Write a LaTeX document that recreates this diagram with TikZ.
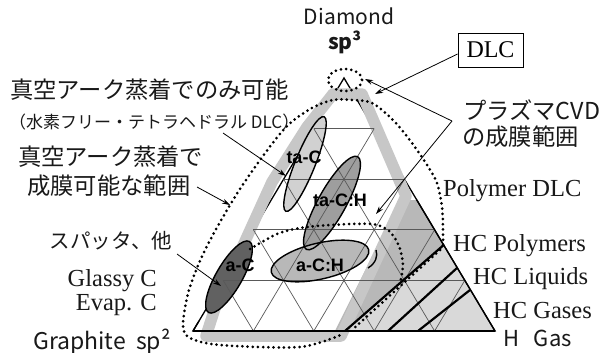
\documentclass[tikz,border=0pt]{standalone}
\usepackage{fontspec}
\setmainfont{Liberation Serif}
\newfontfamily\jp{Noto Sans CJK JP}
\newfontfamily\hv{Liberation Sans}
\usetikzlibrary{calc,arrows.meta}
\begin{document}
\begin{tikzpicture}[x=1pt,y=-1pt,
  jtxt/.style={font=\jp\fontsize{23.3}{27}\selectfont, inner sep=0pt, text=black!90},
  stxt/.style={font=\fontsize{24.5}{28}\selectfont, inner sep=0pt, text=black!90},
  gtxt/.style={font=\jp\fontsize{21}{24}\selectfont, inner sep=0pt, text=black!90},
  btxt/.style={font=\hv\bfseries\fontsize{18}{20}\selectfont, inner sep=0pt},
  dots/.style={line width=3pt, dash pattern=on 0pt off 5.2pt, line cap=round},
  arr/.style={-{Stealth[length=8pt,width=5pt]}, line width=0.8pt},
  gridline/.style={line width=0.7pt, draw=black!65},
  hcline/.style={line width=2.2pt},
  ell/.style={line width=1.4pt},
  band/.style={line width=11.5pt, draw=black!22, line join=round}
]
\useasboundingbox (0,0) rectangle (605,353);
\fill[white] (0,0) rectangle (605,353);

\coordinate (L) at (193,331);
\coordinate (R) at (495,331);
\coordinate (T) at (344,78);

% shaded regions near H corner
\fill[black!15] (443.7,245) -- (R) -- (345,331) -- cycle;
\fill[black!28] (400,200) -- (416.8,200) -- (443.7,245) -- (345,331) -- (335,331) -- cycle;

% triangle outline
\draw[line width=1.3pt] (L) -- (T) -- (R) -- cycle;

% plasma CVD range band
\draw[band] (333,94) -- (362,94) -- (406,196) -- (341,336) -- (206,336)
  -- (216,305) -- (272,182) -- (307,127) -- cycle;

% ellipse fills
\fill[black!18, rotate around={68:(305,164)}] (305,164) ellipse [x radius=51, y radius=10];
\fill[black!38, rotate around={61:(332,203)}] (332,203) ellipse [x radius=53, y radius=14];
\fill[black!28, rotate around={13:(320,261)}] (320,261) ellipse [x radius=50, y radius=18];
\fill[black!62, rotate around={60:(229,277)}] (229,277) ellipse [x radius=41, y radius=13];

% grid
\foreach \k in {1,...,4}{
  \pgfmathsetmacro\f{\k/5}
  \pgfmathsetmacro\g{1-\k/5}
  \draw[gridline] ($(L)!\f!(T)$) -- ($(R)!\f!(T)$);
  \draw[gridline] ($(L)!\f!(R)$) -- ($(L)!\f!(T)$);
  \draw[gridline] ($(L)!\f!(R)$) -- ($(R)!\g!(T)$);
}

% ellipse outlines
\draw[ell, rotate around={68:(305,164)}] (305,164) ellipse [x radius=51, y radius=10];
\draw[ell, rotate around={61:(332,203)}] (332,203) ellipse [x radius=53, y radius=14];
\draw[ell, rotate around={13:(320,261)}] (320,261) ellipse [x radius=50, y radius=18];
\draw[ell, rotate around={60:(229,277)}] (229,277) ellipse [x radius=41, y radius=13];
\draw[ell] (368,268) .. controls (376,263) and (378,256) .. (376,250);

% visible triangle edges
\draw[line width=1.3pt] (L) -- (R);
\draw[line width=1.3pt] (416.8,200) -- (R);
\draw[line width=1.3pt] (L) -- (199,321);

% HC lines
\draw[hcline] (443.7,245) -- (345,331);
\draw[hcline] (457,268) -- (388,331);
\draw[hcline] (470,290) -- (418,331);

% dotted boundaries
\draw[dots] plot[smooth] coordinates {(443,245) (443,230) (442,207) (437,183) (427,165) (412,143) (393,120) (372,103) (352,100) (333,100) (312,108) (287,126) (260,160) (233,200) (205,250) (189,290) (183,325) (190,338) (220,345) (300,347) (343,334)};
\draw[dots] plot[smooth] coordinates {(250,249) (277,234) (300,228) (330,225) (372,224) (389,231) (399,246) (403,265) (400,283)};
\draw[dots] (440,250) -- (352,330);
\draw[dots] (345,80) ellipse [x radius=17, y radius=11];

% DLC box
\node[draw, line width=0.8pt, minimum width=65pt, minimum height=34pt, inner sep=0pt,
  font=\fontsize{24}{28}\selectfont] (dlc) at (490.5,50) {DLC};

% arrows
\coordinate (pv) at (452,121);
\draw[arr] (dlc.west |- 0,54) -- (375,94);
\draw[arr] (pv) -- (365,79);
\draw[arr] (pv) -- (376,214);

% texts
\node[jtxt, anchor=west] (t1) at (10,90) {真空アーク蒸着でのみ可能};
\node[font=\jp\fontsize{17}{20}\selectfont, inner sep=0pt, anchor=west, text=black!90] (t2) at (9,122) {（水素フリー・テトラヘドラル DLC）};
\node[jtxt, anchor=west] (t3) at (18,157) {真空アーク蒸着で};
\node[jtxt, anchor=west] (t4) at (27,186) {成膜可能な範囲};
\node[jtxt, font=\jp\fontsize{20.5}{24}\selectfont] (t5) at (111,241) {スパッタ、他};
\node[stxt, anchor=east] (t6) at (157,281) {Glassy C};
\node[stxt, anchor=east] (t7) at (157,305) {Evap. C};
\node[gtxt, font=\jp\fontsize{23}{26}\selectfont, anchor=west] (t8) at (33,342) {Graphite\ \ sp²};
\node[gtxt] (t9) at (349,16) {Diamond};
\node[gtxt, font=\jp\bfseries\fontsize{21}{24}\selectfont] (t10) at (345,42) {sp³};
\node[jtxt, anchor=west] (t11) at (463,110) {プラズマCVD};
\node[jtxt, anchor=west] (t12) at (462,137) {の成膜範囲};
\node[stxt, anchor=west] (t13) at (443,191) {Polymer DLC};
\node[stxt, anchor=west] (t14) at (453,246) {HC Polymers};
\node[stxt, anchor=west] (t15) at (473,279) {HC Liquids};
\node[stxt, anchor=west] (t16) at (493,311) {HC Gases};
\node[gtxt, font=\jp\fontsize{22}{25}\selectfont, anchor=west] (t17) at (503,338) {H\ \ \ Gas};
\node[btxt] (l1) at (304,157) {ta-C};
\node[btxt] (l2) at (340,200) {ta-C:H};
\node[btxt] (l3) at (240,265) {a-C};
\node[btxt] (l4) at (320,265) {a-C:H};

\coordinate (a1) at (286,176);
\coordinate (a2) at (230,205);
\coordinate (a3) at (221,286);
\draw[arr] (223,133) -- (a1);
\draw[arr] (197,187) -- (a2);
\draw[arr] (177,254) -- (a3);
\end{tikzpicture}
\end{document}
